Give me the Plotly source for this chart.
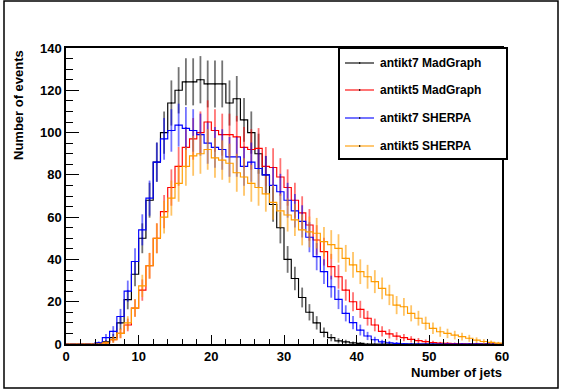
import numpy as np
import plotly.graph_objects as go

# ---- data (60 bins of width 1, from 0 to 60) ----
bin_edges = list(range(0, 61))
antikt7_madgraph = [0, 0, 0, 0, 0.3, 1, 3, 10, 21, 33,
                    50, 68, 86, 100, 114, 120, 124, 124, 125, 123,
                    123, 123, 114, 116, 106, 100, 90, 80, 66, 55,
                    40, 31, 22, 15, 10, 5.5, 3, 1.5, 1, 0.5,
                    0.3, 0, 0, 0, 0, 0, 0, 0, 0, 0,
                    0, 0, 0, 0, 0, 0, 0, 0, 0, 0]
antikt5_madgraph = [0, 0, 0, 0, 0, 0.5, 2, 5, 9, 17,
                    25.5, 37, 50, 62.6, 74, 84, 93, 97, 100, 105,
                    101, 99, 99, 98, 93, 92, 92.5, 84, 83.5, 79,
                    74, 68, 62, 56.3, 49.2, 43.7, 36.6, 31.8, 25.5, 20,
                    16.4, 12.2, 9, 6, 4.8, 3.7, 3, 2.2, 1.6, 1.1,
                    0.7, 0.4, 0.3, 0.2, 0.1, 0, 0, 0, 0, 0]
antikt7_sherpa = [0, 0, 0, 0, 0.5, 3, 6, 13, 25, 39,
                  54, 69, 86, 97, 101, 103.5, 102, 101, 99, 95,
                  93, 92, 88.5, 88.5, 84, 86, 83, 80, 75, 72,
                  68, 63, 58, 50.5, 41.3, 34.2, 27.1, 21.1, 14.5, 10.1,
                  6.6, 3.8, 2, 1, 0.6, 0.3, 0.1, 0, 0, 0,
                  0, 0, 0, 0, 0, 0, 0, 0, 0, 0]
antikt5_sherpa = [0, 0, 0, 0, 0, 0.5, 2, 5, 10, 17,
                  27.5, 37, 50, 60, 69, 76, 84, 89, 90, 92,
                  88, 87, 85.5, 81, 79, 76, 74, 71, 67, 63,
                  61, 58.7, 54, 53, 52.4, 48.4, 47, 45.2, 40.5, 37.4,
                  34.2, 31.8, 29.5, 26.3, 23.2, 18.4, 17.6, 14.5, 12.2, 9.8,
                  7.4, 5.8, 5, 4.2, 3.5, 2.7, 1.8, 1.2, 0.8, 0.4]

series_names = ["antikt7 MadGraph", "antikt5 MadGraph", "antikt7 SHERPA", "antikt5 SHERPA"]
series_values = [antikt7_madgraph, antikt5_madgraph, antikt7_sherpa, antikt5_sherpa]
series_colors = ["#000000", "#ff0000", "#0000ff", "#ff9c00"]
series_err_colors = ["rgba(0,0,0,0.55)", "rgba(255,0,0,0.55)", "rgba(0,0,255,0.55)", "rgba(255,156,0,0.6)"]

x_ticks = [0, 10, 20, 30, 40, 50, 60]
y_ticks = [0, 20, 40, 60, 80, 100, 120, 140]

W, H = 563, 390
L, R, T, B = 66, 502, 48, 344  # plot area in pixels


def px(xp):
    return (xp - L) / (R - L)


def py(yp):
    return (B - yp) / (B - T)


FONT = "Liberation Sans, Arial, sans-serif"

fig = go.Figure()
centers = [(bin_edges[i] + bin_edges[i + 1]) / 2 for i in range(len(bin_edges) - 1)]
for name, vals, col, ecol in zip(series_names, series_values, series_colors, series_err_colors):
    fig.add_trace(go.Scatter(
        x=bin_edges, y=list(vals) + [vals[-1]], mode="lines",
        line=dict(color=col, width=1.15, shape="hv"), name=name, showlegend=False,
        hoverinfo="skip"))
    fig.add_trace(go.Scatter(
        x=centers, y=vals, mode="markers",
        marker=dict(size=1.5, color=col),
        error_y=dict(type="data", array=list(np.sqrt(vals)), color=ecol, thickness=1.8, width=0),
        showlegend=False, hoverinfo="skip"))

fig.update_layout(
    width=W, height=H,
    margin=dict(l=L, r=W - R, t=T, b=H - B, pad=0),
    paper_bgcolor="white", plot_bgcolor="white",
    showlegend=False,
    xaxis=dict(range=[0, 60], tickvals=x_ticks, ticktext=[str(v) for v in x_ticks],
               ticks="inside", ticklen=9, tickwidth=1, tickcolor="black",
               showline=True, linecolor="black", linewidth=1.5, mirror=True,
               showgrid=False, zeroline=False,
               minor=dict(dtick=2, ticks="inside", ticklen=5, tickcolor="black", showgrid=False),
               tickfont=dict(family=FONT, size=13, color="black", weight="bold")),
    yaxis=dict(range=[0, 140], tickvals=y_ticks, ticktext=[str(v) for v in y_ticks],
               ticks="inside", ticklen=13, tickwidth=1, tickcolor="black",
               showline=True, linecolor="black", linewidth=1.5, mirror=True,
               showgrid=False, zeroline=False,
               minor=dict(dtick=5, ticks="inside", ticklen=7, tickcolor="black", showgrid=False),
               tickfont=dict(family=FONT, size=13, color="black", weight="bold")),
)

shapes = []
annotations = []
# canvas border
shapes.append(dict(type="rect", xref="paper", yref="paper",
                   x0=px(4), x1=px(558), y0=py(388), y1=py(1),
                   line=dict(color="black", width=1.5), fillcolor="rgba(0,0,0,0)"))
# legend box
shapes.append(dict(type="rect", xref="paper", yref="paper",
                   x0=px(339), x1=px(507), y0=py(159), y1=py(48),
                   line=dict(color="black", width=2), fillcolor="white"))
entry_y = [63, 90, 118, 146]
for name, col, ey in zip(series_names, series_colors, entry_y):
    shapes.append(dict(type="line", xref="paper", yref="paper",
                       x0=px(345), x1=px(374), y0=py(ey), y1=py(ey),
                       line=dict(color=col, width=1.1)))
    shapes.append(dict(type="rect", xref="paper", yref="paper",
                       x0=px(359), x1=px(360.3), y0=py(ey + 0.7), y1=py(ey - 0.7),
                       line=dict(width=0), fillcolor="black"))
    annotations.append(dict(xref="paper", yref="paper", x=px(378), y=py(ey),
                            xanchor="left", yanchor="middle", showarrow=False,
                            text=name, font=dict(family=FONT, size=12, color="black", weight="bold")))

annotations.append(dict(xref="paper", yref="paper", x=px(504), y=py(372),
                        xanchor="right", yanchor="middle", showarrow=False,
                        text="Number of jets", font=dict(family=FONT, size=13, color="black", weight="bold")))
annotations.append(dict(xref="paper", yref="paper", x=px(18), y=py(48),
                        xanchor="center", yanchor="top", showarrow=False, textangle=-90,
                        text="Number of events", font=dict(family=FONT, size=13, color="black", weight="bold")))

fig.update_layout(shapes=shapes, annotations=annotations)
fig.write_html("out.html")
